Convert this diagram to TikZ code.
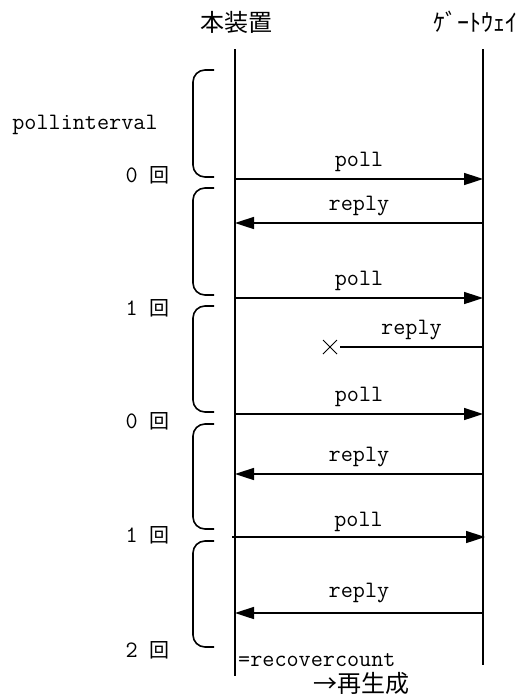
\documentclass[tikz,border=0pt]{standalone}
\usepackage{fontspec}
\newfontfamily\cjk{Noto Sans CJK JP}
\usetikzlibrary{arrows.meta}
\tikzset{
  lifeline/.style={line width=1.6pt},
  msg/.style={line width=1.6pt,-{Triangle[length=19pt,width=12pt]}},
  bracket/.style={line width=1.6pt,rounded corners=12pt},
  lbl/.style={font=\ttfamily\fontsize{23.5}{25}\selectfont,inner sep=1pt},
  head/.style={font=\cjk\fontsize{24}{26}\selectfont,inner sep=1pt},
}
\begin{document}
\begin{tikzpicture}[x=1pt,y=-1pt]
    \useasboundingbox (0,0) rectangle (523,694);
    % headers and lifelines
    \node[head] (dev) at (236,22) {本装置};
    \node[head] (gw) at (475,22) {ｹﾞｰﾄｳｪｲ};
    \coordinate (devtop) at (235,49);
    \coordinate (devbot) at (235,676);
    \coordinate (gwtop) at (483,49);
    \coordinate (gwbot) at (483,665);
    \draw[lifeline] (devtop) -- (devbot);
    \draw[lifeline] (gwtop) -- (gwbot);
    % messages
    \draw[msg] (235,179) coordinate (p1a) -- node[lbl,above=5pt] {poll} (483,179) coordinate (p1b);
    \draw[msg] (483,223) coordinate (r1a) -- node[lbl,above=5pt] {reply} (235,223) coordinate (r1b);
    \draw[msg] (235,298) coordinate (p2a) -- node[lbl,above=5pt] {poll} (483,298) coordinate (p2b);
    \draw[lifeline] (483,347) coordinate (r2a) -- node[lbl,above=5pt] {reply} (340,347) coordinate (r2b);
    \coordinate (lost) at (330,347);
    \draw[line width=0.8pt] ([shift={(-7,-7)}]lost) -- ([shift={(7,7)}]lost);
    \draw[line width=0.8pt] ([shift={(-7,7)}]lost) -- ([shift={(7,-7)}]lost);
    \draw[msg] (235,414) coordinate (p3a) -- node[lbl,above=5pt] {poll} (483,414) coordinate (p3b);
    \draw[msg] (483,474) coordinate (r3a) -- node[lbl,above=5pt] {reply} (235,474) coordinate (r3b);
    \draw[msg] (232,537) coordinate (p4a) -- node[lbl,above=3pt] {poll} (485,537) coordinate (p4b);
    \draw[msg] (483,613) coordinate (r4a) -- node[lbl,above=8pt] {reply} (235,613) coordinate (r4b);
    % poll intervals
    \draw[bracket] (214,70) -| (193,124) |- (214,177);
    \draw[bracket] (214,188) -| (193,240) |- (214,295);
    \draw[bracket] (214,306) -| (193,360) |- (214,412);
    \draw[bracket] (214,424) -| (193,476) |- (214,529);
    \draw[bracket] (214,541) -| (193,594) |- (214,647);
    \node[lbl] (intv) at (85,125) {pollinterval};
    \node[lbl,anchor=east] (c0) at (171,175) {0 {\cjk\fontsize{20}{22}\selectfont 回}};
    \node[lbl,anchor=east] (c1) at (171,308) {1 {\cjk\fontsize{20}{22}\selectfont 回}};
    \node[lbl,anchor=east] (c2) at (171,421) {0 {\cjk\fontsize{20}{22}\selectfont 回}};
    \node[lbl,anchor=east] (c3) at (171,535) {1 {\cjk\fontsize{20}{22}\selectfont 回}};
    \node[lbl,anchor=east] (c4) at (171,650) {2 {\cjk\fontsize{20}{22}\selectfont 回}};
    \node[lbl,anchor=west] (rc) at (237,660) {=recovercount};
    \node[head] (regen) at (361,683) {→再生成};
\end{tikzpicture}
\end{document}
